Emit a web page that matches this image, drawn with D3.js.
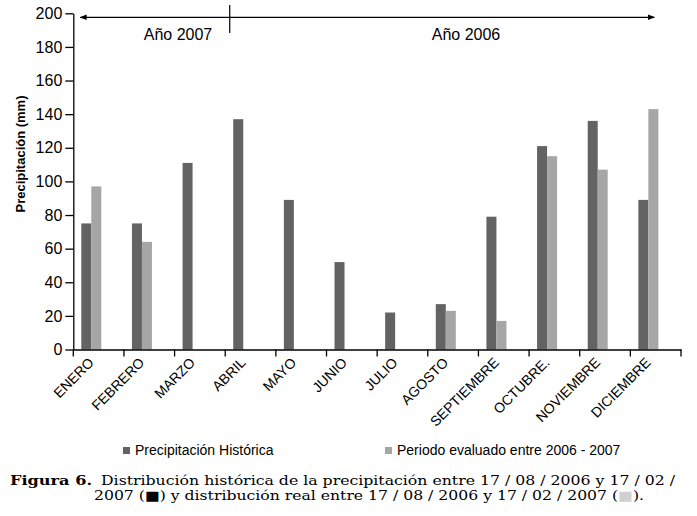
<!DOCTYPE html>
<html>
<head>
<meta charset="utf-8">
<script src="https://cdn.jsdelivr.net/npm/d3@7"></script>
<style>
  html, body { margin: 0; padding: 0; background: #fff; }
  svg { display: block; }
</style>
</head>
<body>
<svg id="chart" width="697" height="516"></svg>
<script>
const months = ["ENERO","FEBRERO","MARZO","ABRIL","MAYO","JUNIO","JULIO","AGOSTO","SEPTIEMBRE","OCTUBRE.","NOVIEMBRE","DICIEMBRE"];
const historica = [75, 75, 111, 137, 89, 52, 22, 27, 79, 121, 136, 89];
const evaluado  = [97, 64, null, null, null, null, null, 23, 17, 115, 107, 143];
const seriesNames = ["Precipitación Histórica", "Periodo evaluado entre 2006 - 2007"];
const seriesColors = ["#636363", "#a6a6a6"];
const yTicks = [0, 20, 40, 60, 80, 100, 120, 140, 160, 180, 200];
const yearLabels = ["Año 2007", "Año 2006"];

const svg = d3.select("#chart");
const FONT = "'Liberation Sans', Arial, sans-serif";

const plotLeft = 73.3, plotRight = 681, plotTop = 13.3, plotBottom = 349.5;
const x0 = d3.scaleBand().domain(months).range([plotLeft, plotRight]).padding(0);
const y = d3.scaleLinear().domain([0, 200]).range([plotBottom, plotTop]);
const x1 = d3.scaleBand().domain([0, 1]).range([0, 20]).padding(0);
const barOffset = 8;

// bars
const data = [historica, evaluado];
data.forEach((vals, si) => {
  svg.append("g").selectAll("rect")
    .data(months.map((m, i) => ({ m, v: vals[i] })).filter(d => d.v != null))
    .join("rect")
    .attr("x", d => x0(d.m) + barOffset + x1(si))
    .attr("width", x1.bandwidth())
    .attr("y", d => y(d.v))
    .attr("height", d => y(0) - y(d.v))
    .attr("fill", seriesColors[si]);
});

// y axis
const yAxis = svg.append("g").attr("transform", `translate(${plotLeft},0)`)
  .call(d3.axisLeft(y).tickValues(yTicks).tickSize(8).tickPadding(3).tickSizeOuter(0));
yAxis.select(".domain").attr("stroke", "#000").attr("stroke-width", 1.3);
yAxis.selectAll(".tick line").attr("stroke", "#000").attr("stroke-width", 1.3);
yAxis.selectAll(".tick text").attr("font-family", FONT).attr("font-size", 16).attr("fill", "#000");

// x axis
const xAxis = svg.append("g").attr("transform", `translate(0,${plotBottom})`)
  .call(d3.axisBottom(x0).tickSize(0).tickFormat(""));
xAxis.select(".domain").attr("stroke", "#000").attr("stroke-width", 1.3);
const boundaries = months.map(m => x0(m)).concat([plotRight]);
xAxis.selectAll(".bnd").data(boundaries).join("line")
  .attr("x1", d => d).attr("x2", d => d).attr("y1", 0).attr("y2", 7)
  .attr("stroke", "#000").attr("stroke-width", 1.3);

// x labels rotated
svg.append("g").selectAll("text").data(months).join("text")
  .attr("transform", m => `translate(${x0(m) + x0.bandwidth() / 2 - 4},${plotBottom + 14}) rotate(-45)`)
  .attr("text-anchor", "end")
  .attr("font-family", FONT).attr("font-size", 14).attr("fill", "#000")
  .text(m => m);

// y label
svg.append("text")
  .attr("transform", `translate(25,154) rotate(-90)`)
  .attr("text-anchor", "middle")
  .attr("font-family", FONT).attr("font-size", 13).attr("font-weight", "bold")
  .text("Precipitación (mm)");

// year arrow
const defs = svg.append("defs");
defs.append("marker").attr("id", "ah").attr("viewBox", "0 0 10 10")
  .attr("refX", 9).attr("refY", 5).attr("markerWidth", 7).attr("markerHeight", 7)
  .attr("orient", "auto-start-reverse").attr("markerUnits", "userSpaceOnUse")
  .append("path").attr("d", "M0,1 L10,5 L0,9 Z").attr("fill", "#000");
const arrowY = 17.3;
svg.append("line")
  .attr("x1", x0("ENERO") + 7).attr("x2", x0("DICIEMBRE") + 24)
  .attr("y1", arrowY).attr("y2", arrowY)
  .attr("stroke", "#000").attr("stroke-width", 1.2)
  .attr("marker-start", "url(#ah)").attr("marker-end", "url(#ah)");
const sepX = x0("ABRIL") + 4.5;
svg.append("line").attr("x1", sepX).attr("x2", sepX).attr("y1", 5).attr("y2", 33)
  .attr("stroke", "#000").attr("stroke-width", 1.2);
svg.append("text").attr("x", 178).attr("y", 39.5).attr("text-anchor", "middle")
  .attr("font-family", FONT).attr("font-size", 16).text(yearLabels[0]);
svg.append("text").attr("x", 466).attr("y", 39.5).attr("text-anchor", "middle")
  .attr("font-family", FONT).attr("font-size", 16).text(yearLabels[1]);

// legend
const legendX = [123, 385];
seriesNames.forEach((name, i) => {
  svg.append("rect").attr("x", legendX[i]).attr("y", 447).attr("width", 7).attr("height", 7)
    .attr("fill", seriesColors[i]);
  svg.append("text").attr("x", legendX[i] + 12).attr("y", 455)
    .attr("font-family", FONT).attr("font-size", 14).attr("fill", "#000").text(name);
});

// caption
const SERIF = "'DejaVu Serif', serif";
svg.append("text").attr("x", 10).attr("y", 485)
  .attr("font-family", SERIF).attr("font-size", 13.5).attr("font-weight", "bold")
  .attr("textLength", 82).attr("lengthAdjust", "spacingAndGlyphs")
  .text("Figura 6.");
svg.append("text").attr("x", 101).attr("y", 485)
  .attr("font-family", SERIF).attr("font-size", 13)
  .attr("textLength", 574).attr("lengthAdjust", "spacingAndGlyphs")
  .text("Distribución histórica de la precipitación entre 17 / 08 / 2006 y 17 / 02 /");
const l2 = svg.append("text").attr("x", 94).attr("y", 499.5)
  .attr("font-family", SERIF).attr("font-size", 13)
  .attr("textLength", 550).attr("lengthAdjust", "spacingAndGlyphs");
l2.append("tspan").text("2007 (");
l2.append("tspan").attr("fill", "#000").text("■");
l2.append("tspan").text(") y distribución real entre 17 / 08 / 2006 y 17 / 02 / 2007 (");
l2.append("tspan").attr("fill", "#d0d0d0").text("■");
l2.append("tspan").text(").");
</script>
</body>
</html>
